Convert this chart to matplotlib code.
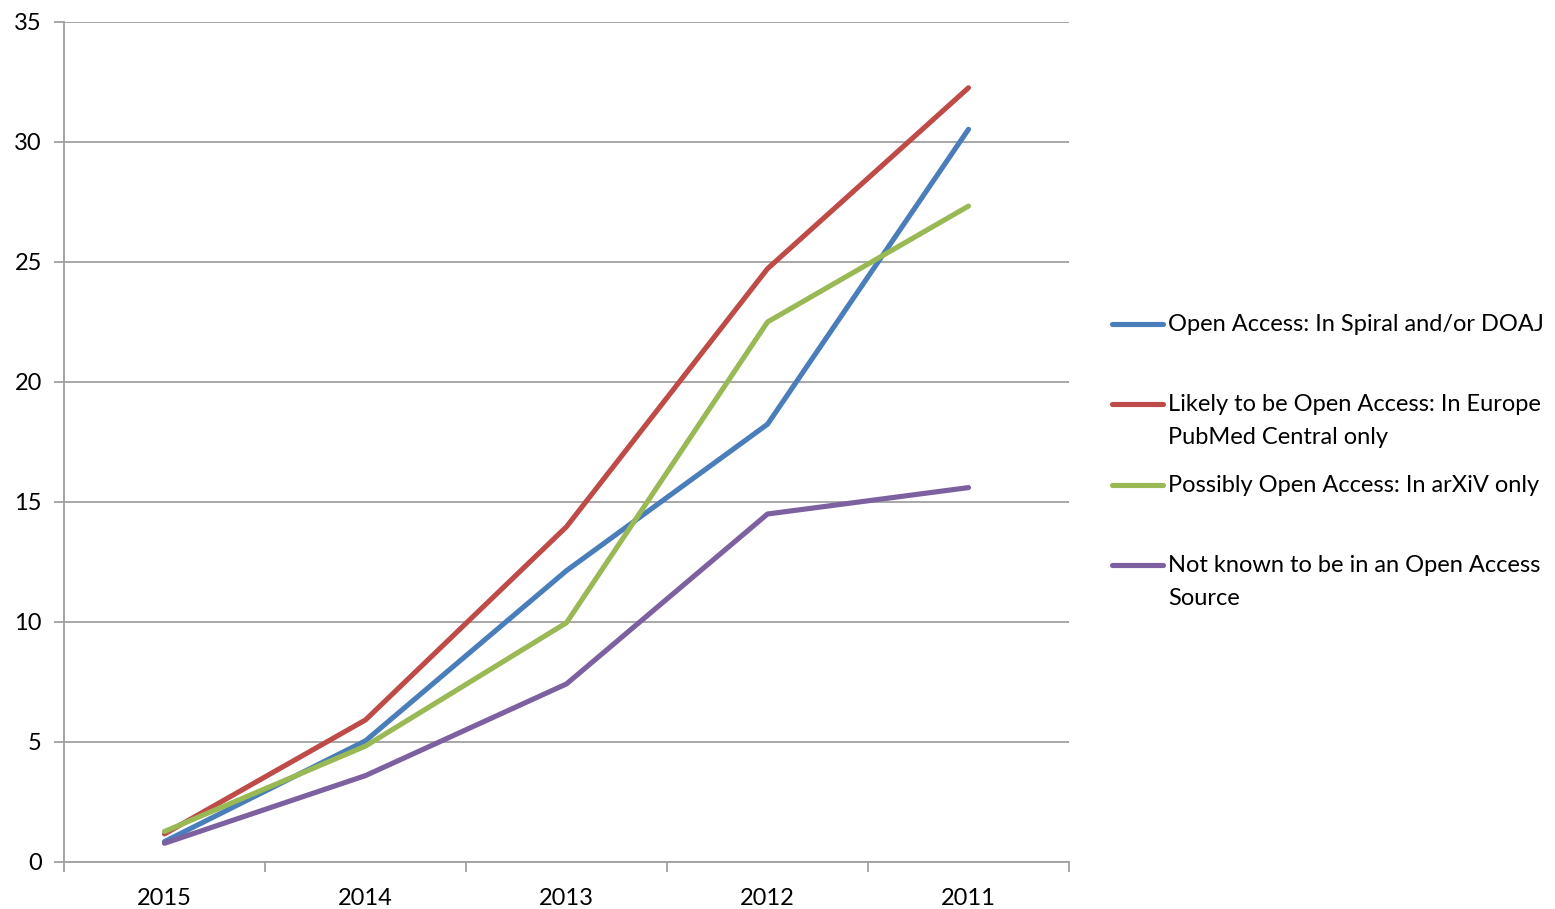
import matplotlib
matplotlib.use("Agg")
import matplotlib.pyplot as plt
from matplotlib.lines import Line2D

years = ["2015", "2014", "2013", "2012", "2011"]
open_access = [0.85, 5.05, 12.14, 18.24, 30.53]
likely_oa = [1.17, 5.92, 13.97, 24.72, 32.26]
possibly_oa = [1.27, 4.83, 9.97, 22.5, 27.33]
not_known = [0.78, 3.6, 7.42, 14.5, 15.6]

labels = ["Open Access: In Spiral and/or DOAJ",
          "Likely to be Open Access: In Europe\nPubMed Central only",
          "Possibly Open Access: In arXiV only",
          "Not known to be in an Open Access\nSource"]
colors = ["#4A7EBB", "#BE4B48", "#98B954", "#7D60A0"]
series = [open_access, likely_oa, possibly_oa, not_known]

plt.rcParams['font.family'] = ['Lato', 'DejaVu Sans']

W, H = 1555, 909
fig = plt.figure(figsize=(W / 100, H / 100), dpi=100)
ax = fig.add_axes([64 / W, (H - 862) / H, (1069 - 64) / W, (862 - 22) / H])

x = list(range(len(years)))
for vals, c in zip(series, colors):
    ax.plot(x, vals, color=c, lw=3.7, solid_capstyle='round', solid_joinstyle='round', zorder=3)

ax.set_xlim(-0.5, len(years) - 0.5)
ax.set_ylim(0, 35)
ax.set_yticks(range(0, 36, 5))
ax.yaxis.grid(True, color="#A0A0A0", lw=1.3)
ax.set_axisbelow(True)

ax.set_xticks([i - 0.5 for i in range(len(years) + 1)])
ax.set_xticklabels([])
ax.set_xticks(x, minor=True)
ax.set_xticklabels(years, minor=True)
ax.tick_params(axis='x', which='minor', length=0, pad=19, labelsize=17)
ax.tick_params(axis='x', which='major', length=7, width=1.3, color="#A0A0A0", direction='out')
ax.tick_params(axis='y', length=7, width=1.3, color="#A0A0A0", direction='out', labelsize=17, pad=9)

for s in ['top', 'right']:
    ax.spines[s].set_visible(False)
for s in ['left', 'bottom']:
    ax.spines[s].set_color("#A0A0A0")
    ax.spines[s].set_linewidth(1.3)

# legend
ys = [324, 404, 485, 565]
for lab, c, yy in zip(labels, colors, ys):
    fig.add_artist(Line2D([1112 / W, 1163 / W], [1 - yy / H, 1 - yy / H], color=c, lw=3.7,
                          solid_capstyle='round'))
    fig.text(1168 / W, 1 - (yy - 10) / H, lab, fontsize=17, va='top', ha='left',
             linespacing=1.68)

fig.savefig("out.png", dpi=100)
